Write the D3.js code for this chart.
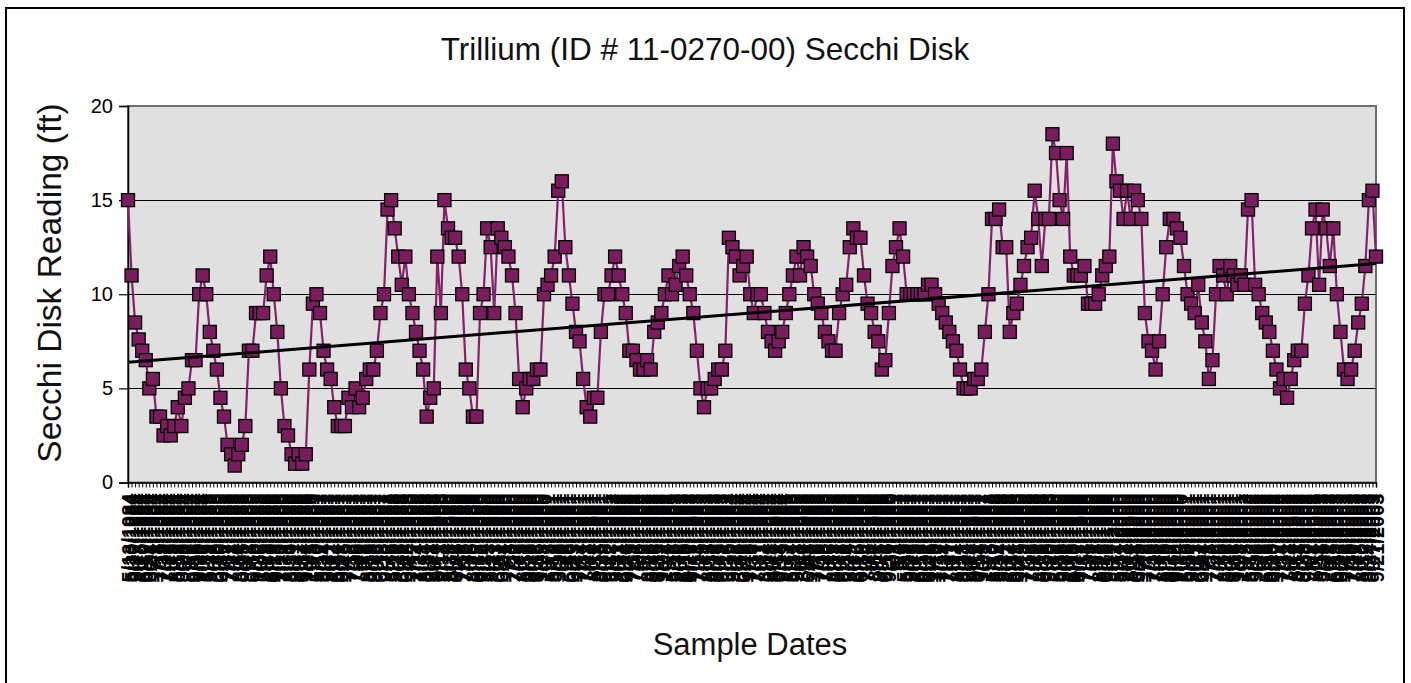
<!DOCTYPE html>
<html>
<head>
<meta charset="utf-8">
<script src="https://cdn.jsdelivr.net/npm/d3@7"></script>
<style>
  html, body { margin: 0; padding: 0; background: #fff; }
  svg { display: block; }
  text { font-family: Arial, "Liberation Sans", sans-serif; }
</style>
</head>
<body>
<svg id="chart" width="1411" height="683"></svg>
<script>
// ---- data ----
const chartTitle = "Trillium (ID # 11-0270-00) Secchi Disk";
const yTitle = "Secchi Disk Reading (ft)";
const xTitle = "Sample Dates";

const years = [1984, 1985, 1986, 1987, 1988, 1989, 1990, 1991, 1992, 1993,
               1994, 1995, 1996, 1997, 1998, 1999, 2000, 2001, 2002, 2003];
const sampleDays = [
  "5/13 5/20 5/27 6/3 6/10 6/17 6/24 7/1 7/8 7/15 7/22 7/29 8/5 8/12 8/19 8/26 9/2 9/9 9/16 9/23 9/30 10/7",
  "5/19 5/31 6/9 6/20 6/30 7/7 7/17 7/28 8/4 8/14 8/25 9/1 9/8 9/15 9/29 10/6",
  "5/25 6/8 6/19 6/29 7/10 7/20 7/31 8/10 8/21 8/31 9/7 9/14 9/21 10/5",
  "5/3 5/10 5/17 5/24 5/31 6/7 6/14 6/21 6/28 7/5 7/12 7/19 7/26 8/2 8/9 8/16 8/23 8/30 9/6 9/13 9/20",
  "5/8 5/15 5/29 6/5 6/19 6/26 7/4 7/17 7/24 7/31 8/14 8/21 8/28 9/4 9/11 9/18",
  "5/14 5/28 6/11 6/25 7/9 7/16 7/30 8/6 8/20 8/27 9/10 9/24",
  "5/13 5/27 6/3 6/17 6/24 7/1 7/8 7/22 7/29 8/5 8/12 8/19 8/26 9/2 9/16 9/23 10/7",
  "5/5 5/12 5/19 5/26 6/2 6/9 6/16 6/23 7/7 7/14 7/21 7/28 8/4 8/11 8/18 8/25 9/8 9/22",
  "5/17 5/31 6/7 6/14 6/28 7/5 7/12 7/26 8/2 8/9 8/23 8/30 9/6 9/13 9/27 10/4",
  "5/9 5/16 5/30 6/6 6/13 6/20 6/27 7/11 7/18 7/25 8/1 8/15 8/22 8/29 9/5 9/12 9/26",
  "5/15 5/22 6/5 6/12 6/19 7/3 7/10 7/17 7/31 8/7 8/14 8/28 9/4 9/11 9/18 9/25",
  "5/7 5/14 5/21 5/28 6/4 6/11 6/18 7/2 7/9 7/16 7/23 7/30 8/6 8/13 8/27 9/3 9/10 9/24",
  "5/19 6/2 6/16 6/30 7/14 7/28 8/4 8/11 8/25 9/1 9/15 9/29",
  "5/1 5/4 5/8 5/15 5/22 5/29 6/5 6/12 6/19 6/22 6/26 7/3 7/10 7/17 7/24 7/27 7/31 8/7 8/14 8/21 8/24 8/28 9/4 9/11 9/18 9/25 10/2",
  "5/3 5/10 5/17 5/24 5/31 6/7 6/14 6/21 6/28 7/5 7/12 7/19 7/26 8/9 8/16 8/23 9/6 9/20",
  "5/9 5/16 5/23 5/30 6/6 6/13 6/20 6/27 7/11 7/18 7/25 8/1 8/8 8/22 8/29 9/12 9/19",
  "5/7 5/14 5/21 5/28 6/4 6/11 6/18 6/25 7/2 7/9 7/16 7/23 7/30 8/6 8/13 8/20 8/27 9/10 9/24 10/8",
  "5/13 5/20 5/27 6/3 6/17 6/24 7/1 7/8 7/22 7/29 8/5 8/19 8/26 9/2 9/16 9/23 10/7",
  "5/5 5/12 5/19 5/26 6/2 6/9 6/16 6/23 6/30 7/7 7/14 7/21 7/28 8/4 8/11 8/18 8/25 9/8 9/22",
  "5/4 5/11 5/18 5/25 6/1 6/8 6/15 6/22 6/29 7/6 7/13 7/20 7/27 8/3 8/10 8/17 8/24 9/7 9/21"
];

const secchi = [
  15, 11, 8.5, 7.6, 7, 6.5, 5, 5.5, 3.5, 3.5, 2.5, 3, 2.5, 3, 4, 3, 4.5, 5, 6.5, 6.5, 10, 11,
  10, 8, 7, 6, 4.5, 3.5, 2, 1.5, 0.9, 1.5, 2, 3, 7, 7, 9, 9, 9, 11, 12, 10,
  8, 5, 3, 2.5, 1.5, 1, 1.5, 1, 1.5, 6, 9.5, 10, 9, 7, 6, 5.5, 4, 3, 3, 3, 4.5, 4, 5, 4, 4.5,
  5.5, 6, 6, 7, 9, 10, 14.5, 15, 13.5, 12, 10.5, 12, 10, 9, 8, 7, 6, 3.5, 4.5, 5,
  12, 9, 15, 13.5, 13, 13, 12, 10, 6, 5, 3.5, 3.5, 9, 10, 13.5, 12.5, 9, 13.5, 13, 12.5, 12,
  11, 9, 5.5, 4, 5, 5.5, 5.5, 6, 6, 10, 10.5, 11, 12, 15.5, 16, 12.5, 11, 9.5, 8, 7.5, 5.5, 4, 3.5, 4.5,
  4.5, 8, 10, 10, 11, 12, 11, 10, 9, 7, 7, 6.5, 6, 6, 6.5, 6, 8, 8.5, 9, 10, 11, 10, 10.5,
  11.5, 12, 11, 10, 9, 7, 5, 4, 5, 5, 5.5, 6, 6, 7, 13, 12.5, 12, 11, 11.5, 12, 10, 9,
  10, 10, 9, 8, 7.5, 7, 7.5, 8, 9, 10, 11, 12, 11, 12.5, 12, 11.5, 10, 9.5, 9, 8, 7.5, 7, 7,
  9, 10, 10.5, 12.5, 13.5, 13, 13, 11, 9.5, 9, 8, 7.5, 6, 6.5, 9, 11.5, 12.5, 13.5, 12, 10, 10, 10,
  10, 10, 10, 10.5, 10.5, 10, 9.5, 9, 8.5, 8, 7.5, 7, 6, 5, 5, 5, 5.5, 5.5, 6, 8, 10, 14, 14,
  14.5, 12.5, 12.5, 8, 9, 9.5, 10.5, 11.5, 12.5, 13, 15.5, 14, 11.5, 14, 14, 18.5, 17.5, 15, 14, 17.5, 12, 11,
  11, 11, 11.5, 9.5, 9.5, 9.5, 10, 11, 11.5, 12, 18, 16, 15.5, 14, 15.5, 14, 15.5, 15, 14, 9, 7.5, 7,
  6, 7.5, 10, 12.5, 14, 14, 13.5, 13, 11.5, 10, 9.5, 9, 10.5, 8.5, 7.5, 5.5, 6.5, 10, 11.5, 11, 10, 11.5, 11,
  10.5, 11, 10.5, 14.5, 15, 10.5, 10, 9, 8.5, 8, 7, 6, 5, 5.5, 4.5, 5.5, 6.5, 7, 7, 9.5,
  11, 13.5, 14.5, 10.5, 14.5, 13.5, 11.5, 13.5, 10, 8, 6, 5.5, 6, 7, 8.5, 9.5, 11.5, 15, 15.5, 12
];

const yTicks = [0, 5, 10, 15, 20];
const yDomain = [0, 20];

// ---- build ----
const dates = years.flatMap((yr, k) => sampleDays[k].split(" ").map(d => d + "/" + yr));
const n = secchi.length;

const svg = d3.select("#chart");
const plot = { left: 128, right: 1376, top: 106, bottom: 482.5 };

// outer frame
svg.append("rect").attr("x", 6).attr("y", 8).attr("width", 1398).attr("height", 700)
  .attr("fill", "#fff").attr("stroke", "#000").attr("stroke-width", 2);

const x = d3.scaleLinear().domain([0, n - 1]).range([plot.left, plot.right]);
const y = d3.scaleLinear().domain(yDomain).range([plot.bottom, plot.top]);

// plot background
svg.append("rect")
  .attr("x", plot.left).attr("y", plot.top)
  .attr("width", plot.right - plot.left).attr("height", plot.bottom - plot.top)
  .attr("fill", "#e0e0e0").attr("stroke", "#6e6e6e").attr("stroke-width", 2);

// gridlines
svg.append("g").selectAll("line").data(yTicks.filter(t => t > 0 && t < 20)).join("line")
  .attr("x1", plot.left).attr("x2", plot.right)
  .attr("y1", d => Math.round(y(d)) + 0.5).attr("y2", d => Math.round(y(d)) + 0.5)
  .attr("stroke", "#000").attr("stroke-width", 1.2);

// y axis
const yAxis = svg.append("g").attr("transform", `translate(${plot.left},0)`)
  .call(d3.axisLeft(y).tickValues(yTicks).tickSize(9).tickPadding(6).tickFormat(d3.format("d")));
yAxis.select(".domain").attr("stroke", "#000").attr("stroke-width", 1.5);
yAxis.selectAll(".tick line").attr("stroke", "#000").attr("stroke-width", 1.2);
yAxis.selectAll("text").attr("font-size", 20).attr("fill", "#000")
  .attr("font-family", "Arial, 'Liberation Sans', sans-serif");

// x axis
const xAxis = svg.append("g").attr("transform", `translate(0,${plot.bottom})`)
  .call(d3.axisBottom(x).tickValues(d3.range(n)).tickSize(5).tickFormat(i => dates[i] || ""));
xAxis.select(".domain").attr("stroke", "#000").attr("stroke-width", 1.5);
xAxis.selectAll(".tick line").attr("stroke", "#000").attr("stroke-width", 1);
xAxis.selectAll("text")
  .attr("font-size", 20).attr("font-weight", "bold").attr("fill", "#000")
  .attr("font-family", "Arial, 'Liberation Sans', sans-serif")
  .attr("transform", "rotate(-90)")
  .attr("x", -11).attr("y", 0).attr("dy", "0.35em")
  .style("text-anchor", "end");

// data line
const line = d3.line().x((d, i) => x(i)).y(d => y(d));
svg.append("path").datum(secchi)
  .attr("d", line).attr("fill", "none")
  .attr("stroke", "#85206a").attr("stroke-width", 2.2);

// markers
const ms = 13;
svg.append("g").selectAll("rect").data(secchi).join("rect")
  .attr("x", (d, i) => x(i) - ms / 2).attr("y", d => y(d) - ms / 2)
  .attr("width", ms).attr("height", ms)
  .attr("fill", "#7a1c5e").attr("stroke", "#000").attr("stroke-width", 1.3);

// linear trend (least squares on sample order)
const idx = d3.range(n);
const xm = d3.mean(idx), ym = d3.mean(secchi);
const slope = d3.sum(idx, i => (i - xm) * (secchi[i] - ym)) / d3.sum(idx, i => (i - xm) ** 2);
const icpt = ym - slope * xm;
svg.append("line")
  .attr("x1", x(0)).attr("y1", y(icpt))
  .attr("x2", x(n - 1)).attr("y2", y(icpt + slope * (n - 1)))
  .attr("stroke", "#000").attr("stroke-width", 3);

// titles
svg.append("text").attr("x", 705).attr("y", 60).attr("text-anchor", "middle")
  .attr("font-size", 31.5).attr("fill", "#111").text(chartTitle);
svg.append("text").attr("transform", "translate(61,283) rotate(-90)").attr("text-anchor", "middle")
  .attr("font-size", 33.5).attr("fill", "#111").text(yTitle);
svg.append("text").attr("x", 750).attr("y", 655).attr("text-anchor", "middle")
  .attr("font-size", 31).attr("fill", "#111").text(xTitle);
</script>
</body>
</html>
